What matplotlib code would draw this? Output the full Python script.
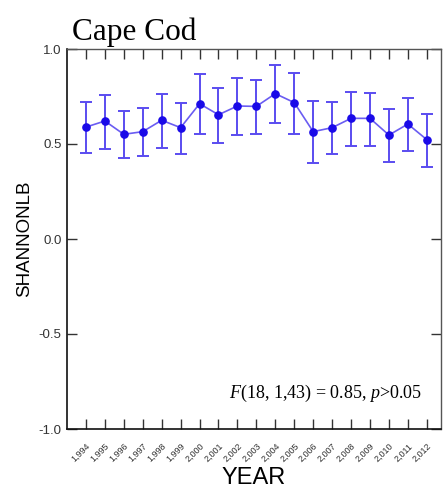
import matplotlib
matplotlib.use("Agg")
import matplotlib.pyplot as plt
import matplotlib.transforms as mtransforms
import numpy as np

years = [1994, 1995, 1996, 1997, 1998, 1999, 2000, 2001, 2002, 2003,
         2004, 2005, 2006, 2007, 2008, 2009, 2010, 2011, 2012]
means = [0.589, 0.621, 0.551, 0.565, 0.625, 0.586, 0.712, 0.654, 0.700, 0.698,
         0.765, 0.718, 0.565, 0.586, 0.635, 0.635, 0.547, 0.605, 0.523]
upper = [0.720, 0.758, 0.675, 0.689, 0.765, 0.714, 0.868, 0.793, 0.847, 0.837,
         0.916, 0.874, 0.726, 0.720, 0.774, 0.768, 0.682, 0.744, 0.660]
lower = [0.454, 0.474, 0.425, 0.437, 0.481, 0.449, 0.554, 0.505, 0.547, 0.554,
         0.609, 0.554, 0.398, 0.449, 0.491, 0.491, 0.407, 0.461, 0.381]
year_labels = [f"{y:,}" for y in years]
yticks = [-1.0, -0.5, 0.0, 0.5, 1.0]
title = "Cape Cod"
stat_text = r"$\mathit{F}$(18, 1,43) = 0.85, $\mathit{p}$>0.05"

plt.rcParams['mathtext.fontset'] = 'custom'
plt.rcParams['mathtext.rm'] = 'Liberation Serif'
plt.rcParams['mathtext.it'] = 'Liberation Serif:italic'

fig = plt.figure(figsize=(4.46, 4.91), dpi=100)
ax = fig.add_axes([67/446, 62/491, 374/446, 380/491])

m = np.array(means)
yerr = np.vstack([m - np.array(lower), np.array(upper) - m])
ax.errorbar(years, means, yerr=yerr, fmt='none', ecolor='#5a4cf0',
            elinewidth=1.4, capsize=4, capthick=1.4, zorder=2)
ax.plot(years, means, color='#6a5cf2', lw=1.2, zorder=3)
ax.plot(years, means, 'o', color='#1a0ae8', ms=5.2, zorder=4)

ax.set_xlim(1993, 2012.75)
ax.set_ylim(-1.0, 1.0)
ax.set_yticks(yticks)
ax.set_yticklabels([f"{v:.1f}" for v in yticks])
ax.set_xticks(years)
ax.set_xticklabels(year_labels, rotation=45, ha='right', rotation_mode='anchor',
                   fontsize=6.5, color='#333333', family='Liberation Sans')
offset = mtransforms.ScaledTranslation(6/100, 0, fig.dpi_scale_trans)
for lab in ax.get_xticklabels():
    lab.set_transform(lab.get_transform() + offset)

ax.tick_params(axis='both', direction='in', length=7.5, width=1.0, color='#333333')
ax.tick_params(axis='x', top=True, pad=9)
ax.tick_params(axis='y', right=True, labelsize=9.5, labelcolor='#333333', pad=4)
for lab in ax.get_yticklabels():
    lab.set_family('Liberation Sans')

for s in ['left', 'bottom']:
    ax.spines[s].set_color('#111111')
    ax.spines[s].set_linewidth(1.2)
for s in ['top', 'right']:
    ax.spines[s].set_color('#555555')
    ax.spines[s].set_linewidth(1.0)

ax.set_ylabel("SHANNONLB", fontsize=13.5, family='Liberation Sans', labelpad=4)
ax.set_xlabel("YEAR", fontsize=17, family='Liberation Sans', labelpad=2)

fig.text(72/446, 1 - 40/491, title, fontsize=22.5, family='Liberation Serif',
         ha='left', va='baseline')
ax.text(0.949, 0.0816, stat_text, transform=ax.transAxes, fontsize=13,
        family='Liberation Serif', ha='right', va='baseline')

fig.savefig("out.png", dpi=100)
